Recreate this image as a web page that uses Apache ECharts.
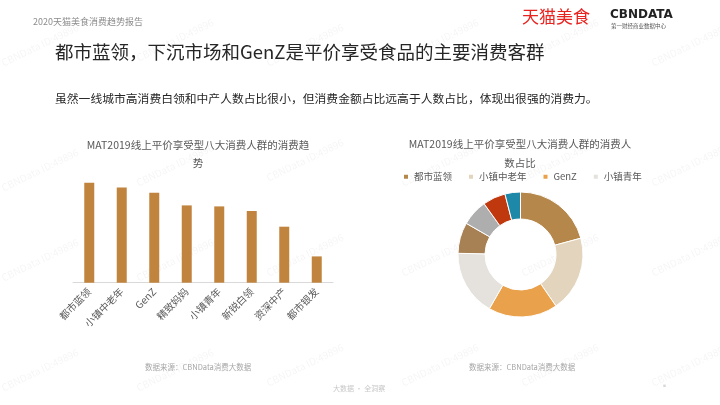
<!DOCTYPE html>
<html>
<head>
<meta charset="utf-8">
<script src="https://cdn.jsdelivr.net/npm/echarts@6/dist/echarts.min.js"></script>
<style>
html,body{margin:0;padding:0;background:#fff;}
#c{width:720px;height:405px;}
</style>
</head>
<body>
<div id="c"></div>
<script>
// Bar chart: consumption trend index of the 8 groups (relative)
const barCategories = ['都市蓝领','小镇中老年','GenZ','精致妈妈','小镇青年','新锐白领','资深中产','都市银发'];
const barValues = [100, 95.3, 90, 77.3, 76.3, 71.7, 56, 26.3];

// Donut: share of consumers (%)
const pieCategories = ['都市蓝领','小镇中老年','GenZ','小镇青年','精致妈妈','新锐白领','资深中产','都市银发'];
const pieValues = [20.8, 19.6, 17.9, 17.0, 8.0, 6.8, 5.9, 4.0];
const pieLegend = ['都市蓝领','小镇中老年','GenZ','小镇青年'];
const pieColors = ['#B5874A','#E3D5BD','#EAA14B','#E5E2DD','#A78153','#AEAEAE','#C0390E','#1E88A8'];

const FONT = '"Noto Sans CJK SC","Noto Sans",sans-serif';
const chart = echarts.init(document.getElementById('c'), null, {renderer:'canvas'});

const watermarks = [];
const wmPos = [[40,45],[175,40],[305,45],[440,40],[560,40],[690,45],
               [40,170],[175,165],[305,160],[440,165],[560,160],[690,165],
               [40,260],[175,260],[305,255],[440,255],[560,255],[690,255],
               [40,370],[175,370],[305,365],[440,365],[560,365],[690,365]];
wmPos.forEach(p => watermarks.push({
  type:'text', x:p[0], y:p[1], rotation:Math.PI/7, silent:true, z:0,
  style:{text:'CBNData ID:49896', fill:'rgba(0,0,0,0.045)', font:'10px '+FONT, align:'center', verticalAlign:'middle'}
}));

chart.setOption({
  backgroundColor:'#ffffff',
  animation:false,
  textStyle:{fontFamily:FONT},
  graphic: watermarks.concat([
    {type:'text', x:33, y:22, style:{text:'2020天猫美食消费趋势报告', fill:'#8c8c8c', font:'9px '+FONT, verticalAlign:'middle'}},
    {type:'text', x:522, y:17, style:{text:'天猫美食', fill:'#E8231F', font:'17px '+FONT, verticalAlign:'middle'}},
    {type:'text', x:610, y:15, style:{text:'CBNDATA', fill:'#222', font:'bold 12px "DejaVu Sans",sans-serif', verticalAlign:'middle'}},
    {type:'text', x:611, y:26, style:{text:'第一财经商业数据中心', fill:'#555', font:'5.5px '+FONT, verticalAlign:'middle'}},
    {type:'text', x:55, y:52, style:{text:'都市蓝领，下沉市场和GenZ是平价享受食品的主要消费客群', fill:'#262626', font:'18.5px '+FONT, verticalAlign:'middle'}},
    {type:'text', x:55, y:99, style:{text:'虽然一线城市高消费白领和中产人数占比很小，但消费金额占比远高于人数占比，体现出很强的消费力。', fill:'#262626', font:'11.8px '+FONT, verticalAlign:'middle'}},
    {type:'text', x:198, y:145, style:{text:'MAT2019线上平价享受型八大消费人群的消费趋', fill:'#595959', font:'10.5px '+FONT, align:'center', verticalAlign:'middle'}},
    {type:'text', x:198, y:163, style:{text:'势', fill:'#595959', font:'10.5px '+FONT, align:'center', verticalAlign:'middle'}},
    {type:'text', x:520, y:144.5, style:{text:'MAT2019线上平价享受型八大消费人群的消费人', fill:'#595959', font:'10.5px '+FONT, align:'center', verticalAlign:'middle'}},
    {type:'text', x:520, y:163, style:{text:'数占比', fill:'#595959', font:'10.5px '+FONT, align:'center', verticalAlign:'middle'}},
    {type:'text', x:145, y:367, style:{text:'数据来源：CBNData消费大数据', fill:'#a6a6a6', font:'7.5px '+FONT, verticalAlign:'middle'}},
    {type:'text', x:469, y:367, style:{text:'数据来源：CBNData消费大数据', fill:'#a6a6a6', font:'7.5px '+FONT, verticalAlign:'middle'}},
    {type:'text', x:333, y:388, style:{text:'大数据 · 全洞察', fill:'#c8c8c8', font:'7px '+FONT, verticalAlign:'middle'}},
    {type:'text', x:663, y:386, style:{text:'■', fill:'#d8d8d8', font:'3px '+FONT, verticalAlign:'middle'}}
  ]),
  grid:{left:73, right:387, top:162.7, bottom:122.3, containLabel:false},
  xAxis:{
    type:'category', data:barCategories,
    axisLine:{lineStyle:{color:'#d9d9d9', width:1}},
    axisTick:{show:false},
    axisLabel:{rotate:45, color:'#595959', fontSize:10, margin:7, interval:0, fontFamily:FONT}
  },
  yAxis:{type:'value', min:0, max:120, show:false, splitLine:{show:false}},
  legend:{
    data:pieLegend, left:402, top:172, padding:0, itemWidth:6, itemHeight:6, itemGap:15,
    icon:'rect', textStyle:{color:'#595959', fontSize:9.5, fontFamily:FONT}
  },
  series:[
    {type:'bar', data:barValues, barWidth:10, itemStyle:{color:'#C0843F'}, silent:true},
    {type:'pie', center:[520.5,254.5], radius:[35.5,62.5], startAngle:90, clockwise:true,
     label:{show:false}, labelLine:{show:false},
     itemStyle:{borderColor:'#fff', borderWidth:1},
     data: pieCategories.map((n,i)=>({name:n, value:pieValues[i], itemStyle:{color:pieColors[i]}}))
    }
  ]
});
</script>
</body>
</html>
